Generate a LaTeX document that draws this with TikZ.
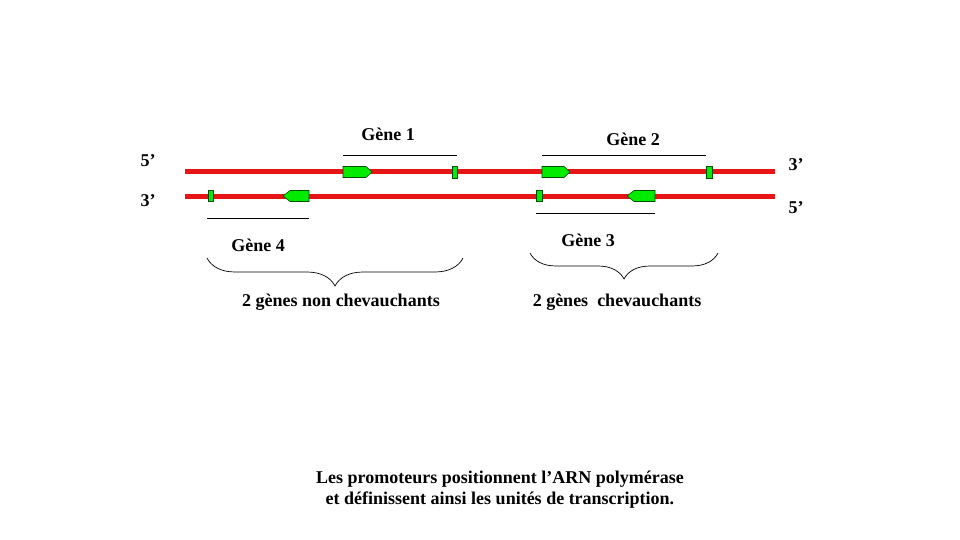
\documentclass[tikz,border=0pt]{standalone}
\usepackage{fontspec}
\setmainfont{Liberation Serif}
\usetikzlibrary{decorations.pathreplacing}

\definecolor{strandred}{RGB}{230,20,20}
\definecolor{genegreen}{RGB}{0,235,0}

\tikzset{
  strand/.style={strandred, line width=5pt},
  lbl/.style={font=\bfseries\fontsize{18}{20}\selectfont, inner sep=0pt},
  span/.style={black, line width=0.8pt},
  promo/.style={draw=black!70!green, fill=genegreen, line width=0.6pt},
  curly/.style={decorate, decoration={brace, mirror, amplitude=28pt}, line width=0.7pt}
}

\begin{document}
\begin{tikzpicture}[x=1pt, y=-1pt]

    \useasboundingbox (0,0) rectangle (960,540);

    % The two strands
    \coordinate (topL) at (185,172);
    \coordinate (topR) at (775,172);
    \coordinate (botL) at (185,196);
    \coordinate (botR) at (775,196);
    \draw[strand] (topL) -- (topR);
    \draw[strand] (botL) -- (botR);

    \node[lbl] (e5l) at (148,161) {5’};
    \node[lbl] (e3l) at (148,201) {3’};
    \node[lbl] (e3r) at (796,165) {3’};
    \node[lbl] (e5r) at (796,208) {5’};

    % Top strand: gene 1 and gene 2 (pointing right)
    \draw[promo] (343,166.5) -- (366,166.5) -- (372,172) -- (366,177.5) -- (343,177.5) -- cycle;
    \draw[promo] (452,166.5) rectangle (457,178);
    \draw[promo] (542,166.5) -- (564,166.5) -- (570,172) -- (564,177.5) -- (542,177.5) -- cycle;
    \draw[promo] (706,166.5) rectangle (712,178);

    % Bottom strand: gene 4 and gene 3 (pointing left)
    \draw[promo] (208,190) rectangle (213,201);
    \draw[promo] (309,190.5) -- (290,190.5) -- (283,196) -- (290,201.5) -- (309,201.5) -- cycle;
    \draw[promo] (536,190) rectangle (542,201);
    \draw[promo] (655,190.5) -- (634,190.5) -- (627,196) -- (634,201.5) -- (655,201.5) -- cycle;

    % Gene spans
    \coordinate (g1a) at (343,155);
    \coordinate (g1b) at (457,155);
    \coordinate (g2a) at (542,155);
    \coordinate (g2b) at (706,155);
    \coordinate (g4a) at (207,218);
    \coordinate (g4b) at (309,218);
    \coordinate (g3a) at (536,213);
    \coordinate (g3b) at (655,213);
    \draw[span] (g1a) -- (g1b);
    \draw[span] (g2a) -- (g2b);
    \draw[span] (g4a) -- (g4b);
    \draw[span] (g3a) -- (g3b);

    \node[lbl] (gene1) at (388,134) {Gène 1};
    \node[lbl] (gene2) at (633,139) {Gène 2};
    \node[lbl] (gene4) at (258,245) {Gène 4};
    \node[lbl] (gene3) at (588,240) {Gène 3};

    % Braces
    \coordinate (b1a) at (207,258);
    \coordinate (b1b) at (463,258);
    \coordinate (b2a) at (530,253);
    \coordinate (b2b) at (718,253);
    \draw[curly] (b1a) -- (b1b);
    \draw[curly, decoration={amplitude=26pt}] (b2a) -- (b2b);

    \node[lbl] (nonover) at (341,302) {2 gènes non chevauchants};
    \node[lbl] (over) at (617,302) {2 gènes\ \ chevauchants};

    \node[lbl, align=center] (note) at (500,490)
        {Les promoteurs positionnent l’ARN polymérase\\[1pt]
         et définissent ainsi les unités de transcription.};

\end{tikzpicture}
\end{document}
